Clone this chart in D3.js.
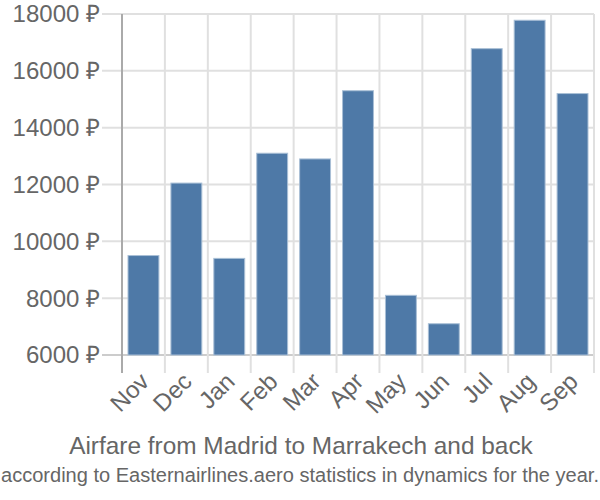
<!DOCTYPE html>
<html>
<head>
<meta charset="utf-8">
<script src="https://cdn.jsdelivr.net/npm/d3@7"></script>
<style>
  body { margin: 0; background: #fff; }
  text { font-family: "Liberation Sans", Arial, sans-serif; fill: #666; }
</style>
</head>
<body>
<svg id="chart" width="600" height="500"></svg>
<script>
var months = ["Nov", "Dec", "Jan", "Feb", "Mar", "Apr", "May", "Jun", "Jul", "Aug", "Sep"];
var prices = [9500, 12050, 9400, 13100, 12900, 15300, 8100, 7100, 16780, 17780, 15200];
var yTicks = [6000, 8000, 10000, 12000, 14000, 16000, 18000];
var title = "Airfare from Madrid to Marrakech and back";
var subtitle = "according to Easternairlines.aero statistics in dynamics for the year.";

var svg = d3.select("#chart");
var plotLeft = 122, plotRight = 594, plotTop = 14, plotBottom = 355;

var x = d3.scaleBand().domain(months).range([plotLeft, plotRight]).paddingInner(0.28).paddingOuter(0.14);
var y = d3.scaleLinear().domain([6000, 18000]).range([plotBottom, plotTop]);
var step = x.step();

// horizontal grid
svg.append("g").selectAll("line").data(yTicks).enter().append("line")
  .attr("x1", plotLeft - 20).attr("x2", plotRight)
  .attr("y1", function(d) { return y(d); }).attr("y2", function(d) { return y(d); })
  .style("stroke", function(d) { return d === 6000 ? "#ccc" : "#e0e0e0"; })
  .style("stroke-width", 2);

// vertical grid at band boundaries
var bounds = months.map(function(m, i) { return plotLeft + step * (i + 1); });
svg.append("g").selectAll("line").data(bounds).enter().append("line")
  .attr("x1", function(d) { return d; }).attr("x2", function(d) { return d; })
  .attr("y1", plotTop).attr("y2", plotBottom + 18)
  .style("stroke", "#e0e0e0").style("stroke-width", 2);

// y axis line
svg.append("line").attr("x1", plotLeft).attr("x2", plotLeft).attr("y1", plotTop).attr("y2", plotBottom + 18)
  .style("stroke", "#aaa").style("stroke-width", 2);

// bars
svg.append("g").selectAll("rect").data(prices).enter().append("rect")
  .attr("x", function(d, i) { return x(months[i]); })
  .attr("width", x.bandwidth())
  .attr("y", function(d) { return y(d); })
  .attr("height", function(d) { return plotBottom - y(d); })
  .style("fill", "#4e79a7")
  .style("stroke", "#a9bfd6").style("stroke-width", 1);

// y tick labels
svg.append("g").selectAll("text").data(yTicks).enter().append("text")
  .attr("x", 100).attr("y", function(d) { return y(d); })
  .attr("dy", "0.35em").attr("text-anchor", "end")
  .style("font-size", "24px")
  .text(function(d) { return d + " \u20bd"; });

// x tick labels
svg.append("g").selectAll("text").data(months).enter().append("text")
  .attr("transform", function(d) {
    return "translate(" + (x(d) + x.bandwidth() / 2 + 1) + "," + (plotBottom + 22) + ") rotate(-45)";
  })
  .attr("text-anchor", "end").attr("dy", "0.35em")
  .style("font-size", "24px")
  .text(function(d) { return d; });

svg.append("text").attr("x", 301).attr("y", 454).attr("text-anchor", "middle")
  .style("font-size", "24.4px").text(title);
svg.append("text").attr("x", 300).attr("y", 482).attr("text-anchor", "middle")
  .style("font-size", "20px").style("font-family", "'Liberation Sans Narrow', 'Liberation Sans', sans-serif")
  .attr("textLength", 598).attr("lengthAdjust", "spacingAndGlyphs")
  .text(subtitle);
</script>
</body>
</html>
